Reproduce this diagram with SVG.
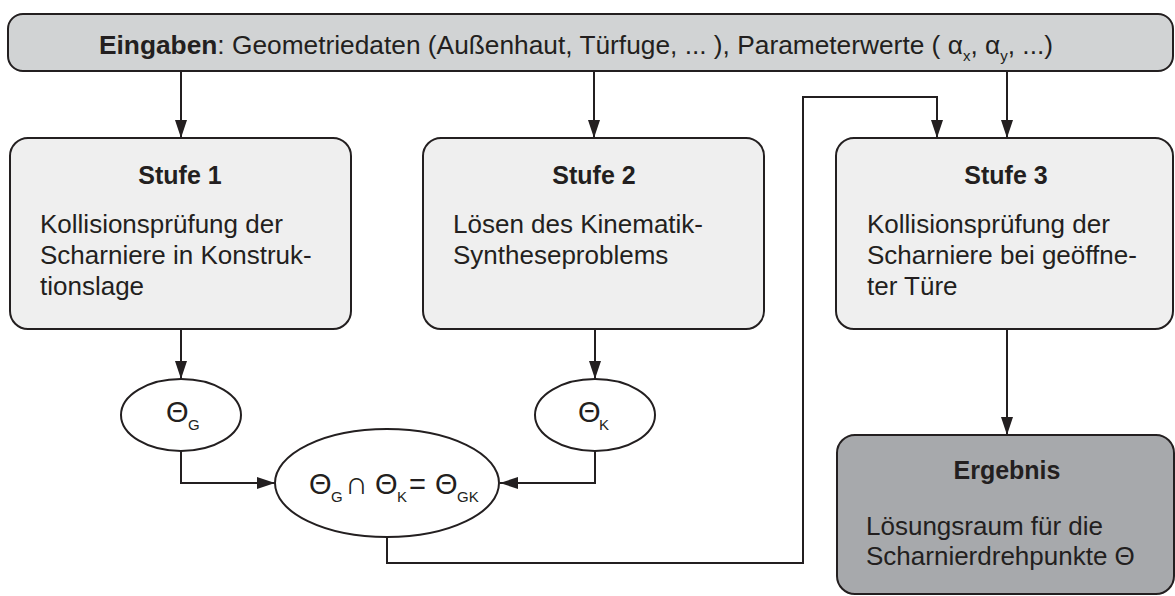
<svg xmlns="http://www.w3.org/2000/svg" width="1175" height="596" viewBox="0 0 1175 596">
  <defs>
    <marker id="arrow" viewBox="0 0 18 12" refX="18" refY="6" markerWidth="18" markerHeight="12" markerUnits="userSpaceOnUse" orient="auto">
      <path d="M0,0 L18,6 L0,12 Z" fill="#231f20"/>
    </marker>
  </defs>
  <style>
    text { font-family: "Liberation Sans", Arial, sans-serif; fill: #231f20; }
    .box { fill: #efefef; stroke: #231f20; stroke-width: 2; }
    .bar { fill: #d1d3d4; stroke: #231f20; stroke-width: 2; }
    .result { fill: #a7a9ac; stroke: #231f20; stroke-width: 2; }
    .set { fill: #ffffff; stroke: #231f20; stroke-width: 2; }
    .title { font-size: 25px; font-weight: bold; text-anchor: middle; }
    .body { font-size: 26px; }
    .main { font-size: 26.3px; }
    .sub { font-size: 15px; }
    .sym { font-size: 29px; }
    .op { font-size: 32px; }
    .conn { fill: none; stroke: #231f20; stroke-width: 2; marker-end: url(#arrow); }
  </style>

  <!-- connectors -->
  <g id="connectors">
    <path class="conn" d="M181,71 V138"/>
    <path class="conn" d="M594,71 V138"/>
    <path class="conn" d="M1007,71 V138"/>
    <path class="conn" d="M387,537 V563 H803 V97 H937 V138"/>
    <path class="conn" d="M181,329 V379"/>
    <path class="conn" d="M595,329 V379"/>
    <path class="conn" d="M181,451 V483 H275"/>
    <path class="conn" d="M595,451 V483 H500"/>
    <path class="conn" d="M1007,329 V435"/>
  </g>

  <!-- inputs -->
  <g id="inputs">
    <rect class="bar" x="8" y="14" width="1165" height="57" rx="15"/>
    <text class="main" x="99" y="54"><tspan font-weight="bold">Eingaben</tspan>: Geometriedaten (Außenhaut, Türfuge, ... ),  Parameterwerte ( α<tspan class="sub" dy="7">x</tspan><tspan dy="-7">, α</tspan><tspan class="sub" dy="7">y</tspan><tspan dy="-7">, ...)</tspan></text>
  </g>

  <!-- stage 1 -->
  <g id="stufe1">
    <rect class="box" x="10" y="138" width="341" height="191" rx="18"/>
    <text class="title" x="180" y="184">Stufe 1</text>
    <text class="body" x="40" y="233">Kollisionsprüfung der</text>
    <text class="body" x="40" y="264">Scharniere in Konstruk-</text>
    <text class="body" x="40" y="295">tionslage</text>
  </g>

  <!-- stage 2 -->
  <g id="stufe2">
    <rect class="box" x="423" y="138" width="341" height="191" rx="18"/>
    <text class="title" x="594" y="184">Stufe 2</text>
    <text class="body" x="453" y="233">Lösen des Kinematik-</text>
    <text class="body" x="453" y="264">Syntheseproblems</text>
  </g>

  <!-- stage 3 -->
  <g id="stufe3">
    <rect class="box" x="836" y="138" width="337" height="191" rx="18"/>
    <text class="title" x="1006" y="184">Stufe 3</text>
    <text class="body" x="867" y="233">Kollisionsprüfung der</text>
    <text class="body" x="867" y="264">Scharniere bei geöffne-</text>
    <text class="body" x="867" y="295">ter Türe</text>
  </g>

  <!-- set Theta_G -->
  <g id="theta-g">
    <ellipse class="set" cx="181" cy="415" rx="60" ry="36"/>
    <text class="sym" x="166" y="422">Θ<tspan class="sub" x="188" dy="8">G</tspan></text>
  </g>

  <!-- set Theta_K -->
  <g id="theta-k">
    <ellipse class="set" cx="595" cy="415" rx="60" ry="36"/>
    <text class="sym" x="578" y="422">Θ<tspan class="sub" x="599" dy="8">K</tspan></text>
  </g>

  <!-- intersection -->
  <g id="theta-gk">
    <ellipse class="set" cx="387" cy="483" rx="112" ry="54"/>
    <text class="sym" y="494"><tspan x="309">Θ</tspan><tspan class="sub" x="331" dy="8">G</tspan><tspan class="op" x="345" dy="-8">∩</tspan><tspan x="375">Θ</tspan><tspan class="sub" x="397" dy="8">K</tspan><tspan x="409" dy="-8">=</tspan><tspan x="435">Θ</tspan><tspan class="sub" x="457" dy="8">GK</tspan></text>
  </g>

  <!-- result -->
  <g id="ergebnis">
    <rect class="result" x="837" y="435" width="337" height="159" rx="18"/>
    <text class="title" x="1007" y="479">Ergebnis</text>
    <text class="body" x="866" y="535">Lösungsraum für die</text>
    <text class="body" x="866" y="565">Scharnierdrehpunkte Θ</text>
  </g>
</svg>
